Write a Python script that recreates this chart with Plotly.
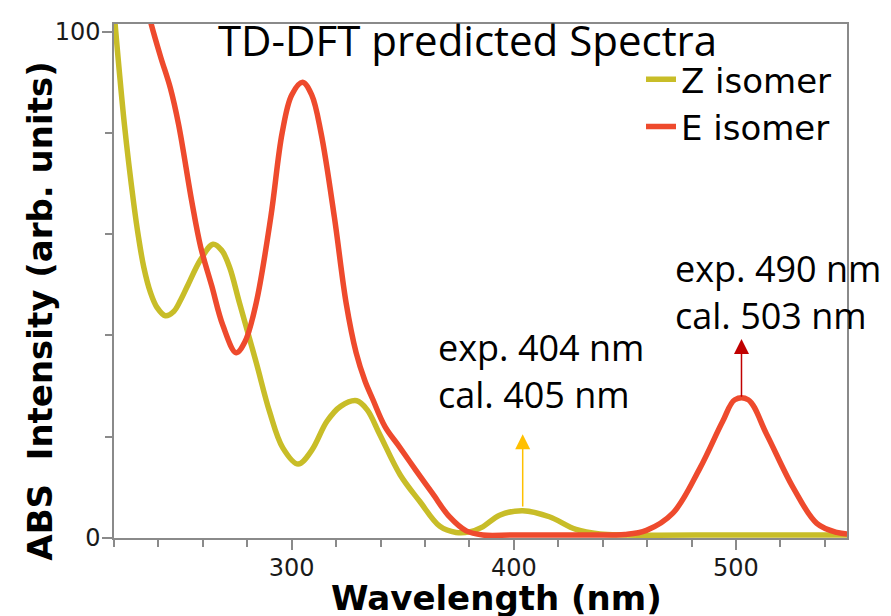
import plotly.graph_objects as go

# ---- data ----
z_wavelength = [220, 224.7, 228.9, 231, 233.4, 236.4, 239.4, 243.1, 247, 250, 253, 259, 264.6,
                268.5, 272, 276.5, 284, 290, 296, 302.9, 309, 315.8, 322, 329.3, 334, 339.7,
                348.8, 357.7, 366.7, 374, 380, 386, 393.6, 404, 416, 428, 438.7, 450, 500, 550]
z_intensity = [104, 81.6, 66, 59.5, 53.5, 48.5, 45.5, 43.9, 44.8, 47, 49.7, 55, 58,
               56.8, 53.5, 46.4, 34.7, 25, 17.8, 14.6, 17.3, 23, 26, 27.1, 25.3, 20.4,
               12.5, 7.2, 2.3, 1.1, 1.2, 2.2, 4.5, 5.4, 4.2, 1.7, 0.8, 0.6, 0.6, 0.6]

e_wavelength = [232, 236.8, 241, 245.4, 249.1, 255, 259, 264, 269, 275, 279, 284,
                290.6, 295.7, 300, 304.9, 309, 313.2, 319.2, 324.5, 329, 333, 336.4, 342, 348.5,
                356, 363.4, 371, 378.6, 386, 400, 430, 450, 459.7, 471.6, 483.8, 494, 499.5,
                505.5, 513.8, 525.7, 536.4, 545.4, 550]
e_intensity = [110, 101.4, 95, 88.8, 81.6, 66.5, 57.5, 49.8, 42, 36.6, 38.8, 46.4,
               63.4, 80, 87.5, 90, 87.5, 80, 63.4, 46.4, 36.6, 31, 27.5, 22, 18,
               13.3, 8.8, 4.2, 1.4, 0.6, 0.6, 0.6, 0.7, 1.5, 4.9, 13.8, 23, 27.3,
               27.3, 20.5, 10, 2.9, 1.1, 0.8]

series_names = ["Z isomer", "E isomer"]
series_colors = ["#c8bd28", "#ee4a2d"]

x_range = [220, 550]
y_range = [0, 101.5]
y_tickvals = [0, 100]

title_text = "TD-DFT predicted Spectra"
x_title = "Wavelength (nm)"
y_title = "ABS\u00a0 Intensity (arb. units)"

# annotation labels and arrows (wavelength, tail, head)
z_label = "exp. 404 nm<br>cal. 405 nm"
e_label = "exp. 490 nm<br>cal. 503 nm"
z_arrow = (404, 5.9, 20.5)
e_arrow = (502.5, 27.6, 39.3)

# the page body adds an 8px margin, so the figure is sized to fit the window
W, H = 883, 608
L, T, R, B = 106, 10, 44, 78
PW, PH = W - L - R, H - T - B


def px(xw):  # window x (pixels) -> paper x
    return (xw - 8 - L) / PW


def py(yw):  # window y (pixels) -> paper y
    return (H - B - (yw - 8)) / PH


fig = go.Figure()
fig.add_trace(go.Scatter(x=z_wavelength, y=z_intensity, mode="lines", name=series_names[0],
                         line=dict(color=series_colors[0], width=5.5, shape="spline", smoothing=1.0)))
fig.add_trace(go.Scatter(x=e_wavelength, y=e_intensity, mode="lines", name=series_names[1],
                         line=dict(color=series_colors[1], width=5.5, shape="spline", smoothing=1.0)))

axis_color = "#8a8a8a"
common_axis = dict(ticks="outside", ticklen=10, tickwidth=1.5, tickcolor=axis_color,
                   showline=True, linecolor=axis_color, linewidth=1.5, mirror=True,
                   showgrid=False, zeroline=False, ticklabelstandoff=-3,
                   tickfont=dict(family="DejaVu Sans", size=24, color="#1a1a1a"))
fig.update_xaxes(range=x_range, tickmode="linear", tick0=0, dtick=100,
                 minor=dict(tickmode="linear", tick0=0, dtick=20, ticks="outside",
                            ticklen=7, tickwidth=1.5, tickcolor=axis_color),
                 **common_axis)
fig.update_yaxes(range=y_range, tickmode="array", tickvals=y_tickvals,
                 minor=dict(tickmode="linear", tick0=0, dtick=20, ticks="outside",
                            ticklen=7, tickwidth=1.5, tickcolor=axis_color),
                 **common_axis)

annotations = [
    dict(text=x_title, xref="paper", yref="paper", x=px(496), y=py(599), showarrow=False,
         xanchor="center", yanchor="middle",
         font=dict(family="DejaVu Sans", size=34, color="black", weight="bold")),
    dict(text=y_title, xref="paper", yref="paper", x=px(40), y=py(309), showarrow=False,
         textangle=-90, xanchor="center", yanchor="middle",
         font=dict(family="DejaVu Sans", size=34, color="black", weight="bold")),
    dict(text=z_label, xref="paper", yref="paper", x=px(436), y=py(369),
         showarrow=False, xanchor="left", yanchor="middle", align="left",
         font=dict(family="Open Sans", size=36, color="black")),
    dict(text=e_label, xref="paper", yref="paper", x=px(673), y=py(289),
         showarrow=False, xanchor="left", yanchor="middle", align="left",
         font=dict(family="Open Sans", size=36, color="black")),
    dict(text="", x=z_arrow[0], y=z_arrow[2], ax=z_arrow[0], ay=z_arrow[1],
         xref="x", yref="y", axref="x", ayref="y", showarrow=True,
         arrowhead=2, arrowsize=2, arrowwidth=1.5, arrowcolor="#ffc000"),
    dict(text="", x=e_arrow[0], y=e_arrow[2], ax=e_arrow[0], ay=e_arrow[1],
         xref="x", yref="y", axref="x", ayref="y", showarrow=True,
         arrowhead=2, arrowsize=2, arrowwidth=1.5, arrowcolor="#c00000"),
]

fig.update_layout(
    width=W, height=H,
    margin=dict(l=L, r=R, t=T, b=B, pad=0),
    paper_bgcolor="white", plot_bgcolor="white",
    title=dict(text=title_text, x=(467.5 - 8) / W, y=1 - (41 - 8) / H,
               xanchor="center", yanchor="middle", xref="container", yref="container",
               font=dict(family="Open Sans", size=42, color="black")),
    showlegend=True,
    legend=dict(x=px(641), y=py(45), xanchor="left", yanchor="top",
                bgcolor="rgba(0,0,0,0)", borderwidth=0,
                font=dict(family="DejaVu Sans", size=34, color="black"),
                tracegroupgap=0),
    annotations=annotations,
)

fig.write_html("out.html")
